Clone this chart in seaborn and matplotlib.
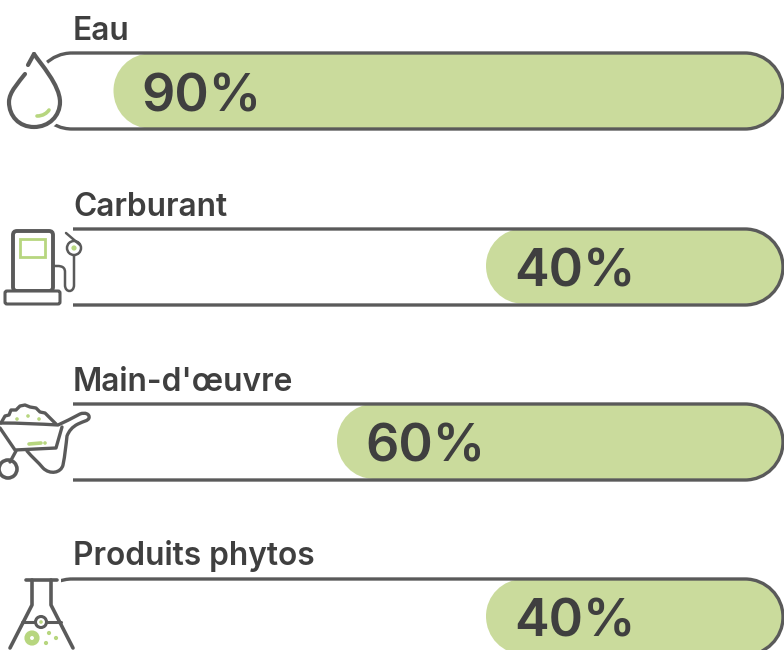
import matplotlib
matplotlib.use("Agg")
import matplotlib.pyplot as plt
import pandas as pd
import seaborn as sns
from matplotlib.patches import Circle, FancyBboxPatch, PathPatch, Rectangle
from matplotlib.path import Path

# data
categories = ["Eau", "Carburant", "Main-d'œuvre", "Produits phytos"]
values = [90, 40, 60, 40]

GREEN = "#cadb9c"
ICON_GREEN = "#b7d67f"
DARK = "#3f3f3f"
LINE = "#5a5a5a"

sns.set_theme(style="white")
plt.rcParams["font.family"] = ["Inter", "DejaVu Sans"]

W, H = 784, 650
PX_PER_UNIT = 7.45   # pixels for 1 %
ROW = 175.2          # pixels between rows
FIRST = 91           # centre of first row
K = 0.5523           # circle approximation for bezier corners

M, L, C = Path.MOVETO, Path.LINETO, Path.CURVE4


def pill(x0, y0, x1, y1, rx, ry):
    # rounded box with true circular ends, x0 < x1 and y0 < y1
    kx, ky = rx * K, ry * K
    verts = [(x0 + rx, y0), (x1 - rx, y0),
             (x1 - rx + kx, y0), (x1, y0 + ry - ky), (x1, y0 + ry),
             (x1, y1 - ry + ky), (x1 - rx + kx, y1), (x1 - rx, y1),
             (x0 + rx, y1),
             (x0 + rx - kx, y1), (x0, y1 - ry + ky), (x0, y1 - ry),
             (x0, y0 + ry - ky), (x0 + rx - kx, y0), (x0 + rx, y0),
             (x0 + rx, y0)]
    codes = [M, L, C, C, C, C, C, C, L, C, C, C, C, C, C, Path.CLOSEPOLY]
    return Path(verts, codes)


fig = plt.figure(figsize=(W / 100, H / 100), dpi=100)
ax = fig.add_axes([0, 0, 1, 1])

df = pd.DataFrame({"poste": categories, "part": values})
sns.barplot(data=df, x="part", y="poste", color=GREEN, width=75 / ROW, saturation=1, ax=ax)

# bars grow from the right edge
ax.set_xlim(W / PX_PER_UNIT, 0)
ax.set_ylim((H - FIRST) / ROW, -FIRST / ROW)
ax.axis("off")

# swap the square bars for rounded ones
for bar, val in zip(list(ax.patches), values):
    x, y, w, h = bar.get_x(), bar.get_y(), bar.get_width(), bar.get_height()
    bar.remove()
    shape = pill(x, y, x + w, y + h, 37 / PX_PER_UNIT, 37 / ROW)
    ax.add_patch(PathPatch(shape, fc=GREEN, ec="none"))
    ax.text(val - 28 / PX_PER_UNIT, y + h / 2 + 1 / ROW, f"{val}%", ha="left", va="center_baseline",
            fontsize=37.5, fontweight=600, color=DARK)

# overlay in pixels for the tracks, the icons and the titles
ov = fig.add_axes([0, 0, 1, 1], facecolor="none")
ov.set_xlim(0, W)
ov.set_ylim(H, 0)
ov.axis("off")

tops = [53, 229, 404, 579]
title_y = [28, 204, 379, 553]
cover_x = [0, 73, 73, 61]
for top, ty, cx, name in zip(tops, title_y, cover_x, categories):
    # flattened to lines, curves running off the canvas get clipped badly
    track = Path(pill(34, top, 783, top + 76, 38, 38).to_polygons()[0])
    ov.add_patch(PathPatch(track, fc="none", ec=LINE, lw=2.4, zorder=2))
    if cx:
        ov.add_patch(Rectangle((0, top - 4), cx, 84, fc="white", ec="none", zorder=3))
    ov.text(73, ty, name, ha="left", va="center_baseline", fontsize=22.8, fontweight=600, color=DARK)


def stroke(points, color=LINE, lw=2.6, fc="none", z=5):
    ov.add_patch(PathPatch(Path(points), fc=fc, ec=color, lw=lw, capstyle="round",
                           joinstyle="round", zorder=z))


def curve(verts, codes, color=LINE, lw=2.6, fc="none", z=5):
    ov.add_patch(PathPatch(Path(verts, codes), fc=fc, ec=color, lw=lw, capstyle="round",
                           joinstyle="round", zorder=z))


# drop
drop_v = [(34, 54), (40, 63), (60, 85), (60, 102), (60, 116), (49, 127), (34, 127),
          (19, 127), (9, 116), (9, 102), (9, 92), (19, 82), (25, 74)]
drop_c = [M, C, C, C, C, C, C, C, C, C, C, C, C]
curve(drop_v + [(34, 54)], drop_c + [L], color="white", lw=8, fc="white", z=4)
ov.add_patch(Rectangle((24, 60), 6, 10, fc="white", ec="none", zorder=4))
curve(drop_v, drop_c, lw=3)
stroke([(28, 65), (34, 54)], lw=3)
curve([(37, 116), (43, 116), (47, 113), (49, 110)], [M, C, C, C], color=ICON_GREEN, lw=2.6)

# fuel pump
ov.add_patch(FancyBboxPatch((13, 231), 40, 60, boxstyle="round,pad=0,rounding_size=4",
                            fc="none", ec=LINE, lw=2.8, zorder=5))
ov.add_patch(FancyBboxPatch((5, 291), 55, 13, boxstyle="round,pad=0,rounding_size=2",
                            fc="white", ec=LINE, lw=2.2, zorder=5))
ov.add_patch(Rectangle((20, 239), 25, 18, fc="none", ec=ICON_GREEN, lw=2, zorder=5))
curve([(53, 266), (58, 266), (65, 265), (65, 272), (65, 278), (65, 284), (65, 285),
       (65, 293), (74, 293), (74, 285), (74, 275), (74, 265), (74, 255)],
      [M, C, C, C, C, C, C, C, C, C, C, C, C], lw=1.8)
ov.add_patch(Circle((74, 248), 7, fc="white", ec=LINE, lw=1.8, zorder=5))
ov.add_patch(Circle((74, 248), 2.6, fc=ICON_GREEN, ec="none", zorder=6))
stroke([(66, 233), (80, 245)], lw=1.8)

# wheelbarrow
stroke([(1, 423), (5, 416), (9, 415), (11, 410), (16, 410), (20, 406), (25, 405), (30, 407),
        (36, 408), (40, 412), (45, 413), (50, 418), (56, 424)], lw=2.4)
curve([(0, 423), (20, 423), (40, 424), (58, 425), (65, 422), (72, 418), (80, 414),
       (85, 412), (90, 414), (89, 418), (88, 421), (84, 421), (78, 424),
       (72, 427), (69, 431), (67, 436), (66, 445), (65, 455), (63, 465),
       (61, 473), (50, 475), (43, 468), (38, 462), (32, 457), (27, 451)],
      [M] + [C] * 24, lw=2.4)
stroke([(0, 428), (15, 450), (56, 448), (62, 427)], lw=2.4)
stroke([(16, 451), (10, 462)], lw=2.4)
ov.add_patch(Circle((8, 469), 9, fc="none", ec=LINE, lw=2.6, zorder=5))
stroke([(29, 444), (41, 443)], color=ICON_GREEN, lw=2.6)
for pt in [(45, 443), (17, 419), (28, 416), (39, 419)]:
    ov.add_patch(Circle(pt, 1.8, fc=ICON_GREEN, ec="none", zorder=6))

# flask
stroke([(26, 580), (57, 580)], lw=2.6)
stroke([(32, 580), (32, 605), (10, 648)], lw=2.6)
stroke([(51, 580), (51, 605), (73, 648)], lw=2.6)
stroke([(22, 622), (61, 622)], lw=2.2)
ov.add_patch(Circle((41, 622), 5.5, fc="white", ec=LINE, lw=2.2, zorder=6))
ov.add_patch(Circle((41, 622), 1.8, fc=ICON_GREEN, ec="none", zorder=7))
ov.add_patch(Circle((32, 638), 4.8, fc="none", ec=ICON_GREEN, lw=4, zorder=6))
for pt in [(49, 633), (56, 638), (46, 643)]:
    ov.add_patch(Circle(pt, 2.1, fc=ICON_GREEN, ec="none", zorder=6))

fig.savefig("out.png", dpi=100)
